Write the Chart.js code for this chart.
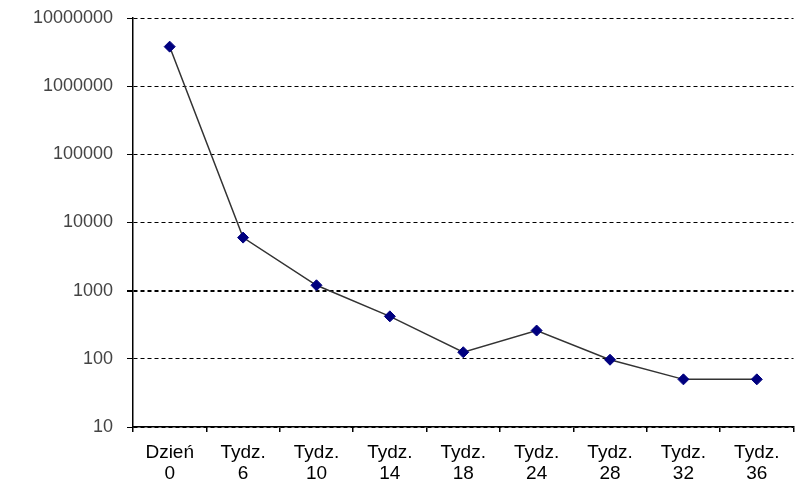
<!DOCTYPE html>
<html>
<head>
<meta charset="utf-8">
<script src="https://cdn.jsdelivr.net/npm/chart.js@4"></script>
<style>
  body { margin: 0; background: #fff; }
  #wrap { width: 800px; height: 486px; }
</style>
</head>
<body>
<div id="wrap"><canvas id="grafico"></canvas></div>
<script>
const etykiety = [['Dzień', '0'], ['Tydz.', '6'], ['Tydz.', '10'], ['Tydz.', '14'], ['Tydz.', '18'],
                  ['Tydz.', '24'], ['Tydz.', '28'], ['Tydz.', '32'], ['Tydz.', '36']];
const wartosci = [3800000, 6000, 1200, 420, 125, 260, 97, 50, 50];
const podzialkaY = [10, 100, 1000, 10000, 100000, 1000000, 10000000];

const ctx = document.getElementById('grafico').getContext('2d');
const grafico = new Chart(ctx, {
    type: 'line',
    data: {
        labels: etykiety,
        datasets: [{
            data: wartosci,
            borderColor: '#333333',
            borderWidth: 1.5,
            pointStyle: 'rectRot',
            pointRadius: 5.5,
            pointBackgroundColor: '#00007f',
            pointBorderColor: '#00007f',
            pointBorderWidth: 1,
            tension: 0
        }]
    },
    options: {
        responsive: true,
        maintainAspectRatio: false,
        animation: false,
        layout: { padding: { top: 18, right: 5, bottom: 0, left: 0 } },
        plugins: {
            legend: { display: false },
            tooltip: { enabled: false }
        },
        scales: {
            x: {
                type: 'category',
                offset: true,
                afterFit: (scale) => { scale.height = 59; },
                grid: {
                    offset: true,
                    drawOnChartArea: false,
                    drawTicks: true,
                    tickLength: 5,
                    color: '#000',
                    lineWidth: 1.5
                },
                border: { color: '#000', width: 1.5 },
                ticks: {
                    color: '#000',
                    font: { family: 'Liberation Sans, Arial, sans-serif', size: 19, lineHeight: 1.1 },
                    padding: 10,
                    maxRotation: 0,
                    autoSkip: false
                }
            },
            y: {
                type: 'logarithmic',
                min: 10,
                max: 10000000,
                afterFit: (scale) => {
                    scale.width = 133;
                    scale.paddingTop = 0;
                    scale.paddingBottom = 0;
                },
                afterBuildTicks: (scale) => {
                    scale.ticks = podzialkaY.map(v => ({ value: v }));
                },
                grid: {
                    color: '#000',
                    lineWidth: (c) => (c.tick && c.tick.value === 1000 ? 2 : 1),
                    tickLength: 6
                },
                border: { color: '#000', width: 1.5, dash: [4, 3] },
                ticks: {
                    color: '#444',
                    font: { family: 'Liberation Sans, Arial, sans-serif', size: 18 },
                    padding: 14,
                    callback: (v) => String(v)
                }
            }
        }
    }
});
</script>
</body>
</html>
